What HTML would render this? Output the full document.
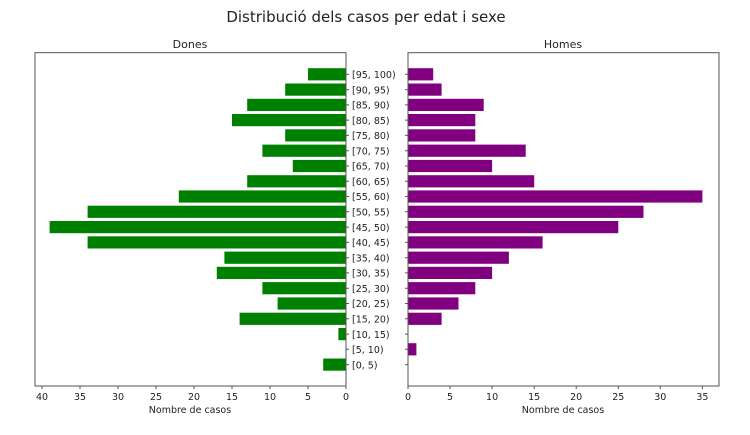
<!DOCTYPE html>
<html><head><meta charset="utf-8"><style>
body{margin:0;background:#fff}
svg text{font-family:"DejaVu Sans","Liberation Sans",sans-serif;fill:#222}
</style></head><body>
<svg width="750" height="430" xmlns="http://www.w3.org/2000/svg">
<rect width="750" height="430" fill="#fff"/>
<text x="366" y="22" font-size="15" text-anchor="middle">Distribució dels casos per edat i sexe</text>
<text x="190" y="48" font-size="11" text-anchor="middle">Dones</text>
<text x="563" y="48" font-size="11" text-anchor="middle">Homes</text>
<g fill="#008000">
<rect x="308" y="68.2" width="38" height="12.2"/>
<rect x="285.2" y="83.5" width="60.8" height="12.2"/>
<rect x="247.2" y="98.8" width="98.8" height="12.2"/>
<rect x="232" y="114" width="114" height="12.2"/>
<rect x="285.2" y="129.3" width="60.8" height="12.2"/>
<rect x="262.4" y="144.6" width="83.6" height="12.2"/>
<rect x="292.8" y="159.9" width="53.2" height="12.2"/>
<rect x="247.2" y="175.2" width="98.8" height="12.2"/>
<rect x="178.8" y="190.4" width="167.2" height="12.2"/>
<rect x="87.6" y="205.7" width="258.4" height="12.2"/>
<rect x="49.6" y="221" width="296.4" height="12.2"/>
<rect x="87.6" y="236.3" width="258.4" height="12.2"/>
<rect x="224.4" y="251.6" width="121.6" height="12.2"/>
<rect x="216.8" y="266.8" width="129.2" height="12.2"/>
<rect x="262.4" y="282.1" width="83.6" height="12.2"/>
<rect x="277.6" y="297.4" width="68.4" height="12.2"/>
<rect x="239.6" y="312.7" width="106.4" height="12.2"/>
<rect x="338.4" y="328" width="7.6" height="12.2"/>
<rect x="323.2" y="358.5" width="22.8" height="12.2"/>
</g>
<g fill="#800080">
<rect x="408" y="68.2" width="25.2" height="12.2"/>
<rect x="408" y="83.5" width="33.6" height="12.2"/>
<rect x="408" y="98.8" width="75.7" height="12.2"/>
<rect x="408" y="114" width="67.3" height="12.2"/>
<rect x="408" y="129.3" width="67.3" height="12.2"/>
<rect x="408" y="144.6" width="117.7" height="12.2"/>
<rect x="408" y="159.9" width="84.1" height="12.2"/>
<rect x="408" y="175.2" width="126.2" height="12.2"/>
<rect x="408" y="190.4" width="294.4" height="12.2"/>
<rect x="408" y="205.7" width="235.5" height="12.2"/>
<rect x="408" y="221" width="210.3" height="12.2"/>
<rect x="408" y="236.3" width="134.6" height="12.2"/>
<rect x="408" y="251.6" width="100.9" height="12.2"/>
<rect x="408" y="266.8" width="84.1" height="12.2"/>
<rect x="408" y="282.1" width="67.3" height="12.2"/>
<rect x="408" y="297.4" width="50.5" height="12.2"/>
<rect x="408" y="312.7" width="33.6" height="12.2"/>
<rect x="408" y="343.2" width="8.4" height="12.2"/>
</g>
<rect x="35" y="52.7" width="311" height="333.3" fill="none" stroke="#555" stroke-width="1"/>
<rect x="408" y="52.7" width="311" height="333.3" fill="none" stroke="#555" stroke-width="1"/>
<g stroke="#555" stroke-width="1">
<path d="M346 74.3h3M346 89.6h3M346 104.9h3M346 120.1h3M346 135.4h3M346 150.7h3M346 166h3M346 181.3h3M346 196.5h3M346 211.8h3M346 227.1h3M346 242.4h3M346 257.7h3M346 272.9h3M346 288.2h3M346 303.5h3M346 318.8h3M346 334.1h3M346 349.3h3M346 364.6h3"/>
<path d="M405 74.3h3M405 89.6h3M405 104.9h3M405 120.1h3M405 135.4h3M405 150.7h3M405 166h3M405 181.3h3M405 196.5h3M405 211.8h3M405 227.1h3M405 242.4h3M405 257.7h3M405 272.9h3M405 288.2h3M405 303.5h3M405 318.8h3M405 334.1h3M405 349.3h3M405 364.6h3"/>
<path d="M346 386v3M308 386v3M270 386v3M232 386v3M194 386v3M156 386v3M118 386v3M80 386v3M42 386v3"/>
<path d="M408 386v3M450 386v3M492.1 386v3M534.2 386v3M576.2 386v3M618.3 386v3M660.3 386v3M702.4 386v3"/>
</g>
<g font-size="9.5">
<text x="352" y="78">[95, 100)</text>
<text x="352" y="93.3">[90, 95)</text>
<text x="352" y="108.6">[85, 90)</text>
<text x="352" y="123.8">[80, 85)</text>
<text x="352" y="139.1">[75, 80)</text>
<text x="352" y="154.4">[70, 75)</text>
<text x="352" y="169.7">[65, 70)</text>
<text x="352" y="185">[60, 65)</text>
<text x="352" y="200.2">[55, 60)</text>
<text x="352" y="215.5">[50, 55)</text>
<text x="352" y="230.8">[45, 50)</text>
<text x="352" y="246.1">[40, 45)</text>
<text x="352" y="261.4">[35, 40)</text>
<text x="352" y="276.6">[30, 35)</text>
<text x="352" y="291.9">[25, 30)</text>
<text x="352" y="307.2">[20, 25)</text>
<text x="352" y="322.5">[15, 20)</text>
<text x="352" y="337.8">[10, 15)</text>
<text x="352" y="353">[5, 10)</text>
<text x="352" y="368.3">[0, 5)</text>
</g>
<g font-size="9.5" text-anchor="middle">
<text x="346" y="400">0</text><text x="308" y="400">5</text><text x="270" y="400">10</text><text x="232" y="400">15</text><text x="194" y="400">20</text><text x="156" y="400">25</text><text x="118" y="400">30</text><text x="80" y="400">35</text><text x="42" y="400">40</text>
<text x="408" y="400">0</text><text x="450" y="400">5</text><text x="492.1" y="400">10</text><text x="534.2" y="400">15</text><text x="576.2" y="400">20</text><text x="618.3" y="400">25</text><text x="660.3" y="400">30</text><text x="702.4" y="400">35</text>
</g>
<g font-size="9.5" text-anchor="middle">
<text x="190" y="413">Nombre de casos</text>
<text x="563" y="413">Nombre de casos</text>
</g>
</svg>
</body></html>
